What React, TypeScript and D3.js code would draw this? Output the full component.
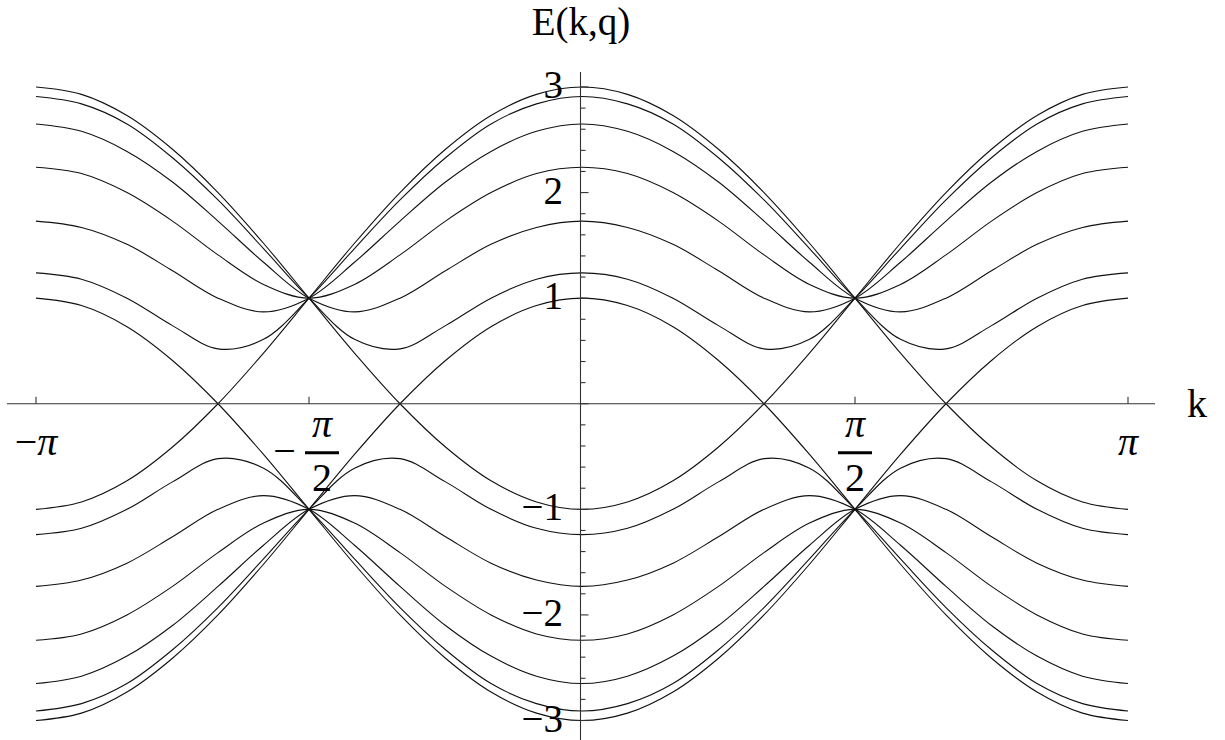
import React, { useEffect, useRef } from "react";
import * as d3 from "d3";

// k sample points, -pi .. pi in steps of pi/12
const kGrid = [
  -3.1416, -2.8798, -2.618, -2.3562, -2.0944, -1.8326, -1.5708, -1.309, -1.0472, -0.7854, -0.5236, -0.2618,
  0, 0.2618, 0.5236, 0.7854, 1.0472, 1.309, 1.5708, 1.8326, 2.0944, 2.3562, 2.618, 2.8798, 3.1416,
];

// bands (upper and lower branches)
const bandA = [-1, -0.93, -0.73, -0.41, 0, 0.48, 1, 1.52, 2, 2.41, 2.73, 2.93, 3, 2.93, 2.73, 2.41, 2, 1.52, 1, 0.48, 0, -0.41, -0.73, -0.93, -1];
const bandANeg = [1, 0.93, 0.73, 0.41, 0, -0.48, -1, -1.52, -2, -2.41, -2.73, -2.93, -3, -2.93, -2.73, -2.41, -2, -1.52, -1, -0.48, 0, 0.41, 0.73, 0.93, 1];
const bandB = [3, 2.93, 2.73, 2.41, 2, 1.52, 1, 0.48, 0, -0.41, -0.73, -0.93, -1, -0.93, -0.73, -0.41, 0, 0.48, 1, 1.52, 2, 2.41, 2.73, 2.93, 3];
const bandBNeg = [-3, -2.93, -2.73, -2.41, -2, -1.52, -1, -0.48, 0, 0.41, 0.73, 0.93, 1, 0.93, 0.73, 0.41, 0, -0.48, -1, -1.52, -2, -2.41, -2.73, -2.93, -3];
const bandC = [1.24, 1.18, 1, 0.74, 0.52, 0.61, 1, 1.47, 1.93, 2.33, 2.65, 2.84, 2.91, 2.84, 2.65, 2.33, 1.93, 1.47, 1, 0.61, 0.52, 0.74, 1, 1.18, 1.24];
const bandCNeg = [-1.24, -1.18, -1, -0.74, -0.52, -0.61, -1, -1.47, -1.93, -2.33, -2.65, -2.84, -2.91, -2.84, -2.65, -2.33, -1.93, -1.47, -1, -0.61, -0.52, -0.74, -1, -1.18, -1.24];
const bandD = [2.91, 2.84, 2.65, 2.33, 1.93, 1.47, 1, 0.61, 0.52, 0.74, 1, 1.18, 1.24, 1.18, 1, 0.74, 0.52, 0.61, 1, 1.47, 1.93, 2.33, 2.65, 2.84, 2.91];
const bandDNeg = [-2.91, -2.84, -2.65, -2.33, -1.93, -1.47, -1, -0.61, -0.52, -0.74, -1, -1.18, -1.24, -1.18, -1, -0.74, -0.52, -0.61, -1, -1.47, -1.93, -2.33, -2.65, -2.84, -2.91];
const bandE = [1.73, 1.67, 1.51, 1.26, 1, 0.87, 1, 1.34, 1.73, 2.1, 2.39, 2.58, 2.65, 2.58, 2.39, 2.1, 1.73, 1.34, 1, 0.87, 1, 1.26, 1.51, 1.67, 1.73];
const bandENeg = [-1.73, -1.67, -1.51, -1.26, -1, -0.87, -1, -1.34, -1.73, -2.1, -2.39, -2.58, -2.65, -2.58, -2.39, -2.1, -1.73, -1.34, -1, -0.87, -1, -1.26, -1.51, -1.67, -1.73];
const bandF = [2.65, 2.58, 2.39, 2.1, 1.73, 1.34, 1, 0.87, 1, 1.26, 1.51, 1.67, 1.73, 1.67, 1.51, 1.26, 1, 0.87, 1, 1.34, 1.73, 2.1, 2.39, 2.58, 2.65];
const bandFNeg = [-2.65, -2.58, -2.39, -2.1, -1.73, -1.34, -1, -0.87, -1, -1.26, -1.51, -1.67, -1.73, -1.67, -1.51, -1.26, -1, -0.87, -1, -1.34, -1.73, -2.1, -2.39, -2.58, -2.65];
const bandG = [2.24, 2.18, 2, 1.73, 1.41, 1.13, 1, 1.13, 1.41, 1.73, 2, 2.18, 2.24, 2.18, 2, 1.73, 1.41, 1.13, 1, 1.13, 1.41, 1.73, 2, 2.18, 2.24];
const bandGNeg = [-2.24, -2.18, -2, -1.73, -1.41, -1.13, -1, -1.13, -1.41, -1.73, -2, -2.18, -2.24, -2.18, -2, -1.73, -1.41, -1.13, -1, -1.13, -1.41, -1.73, -2, -2.18, -2.24];

const bands = [bandA, bandANeg, bandB, bandBNeg, bandC, bandCNeg, bandD, bandDNeg, bandE, bandENeg, bandF, bandFNeg, bandG, bandGNeg];

const kTickValues = [-Math.PI, -Math.PI / 2, Math.PI / 2, Math.PI];
const kTickLabels = ["−π", "−π/2", "π/2", "π"];
const eTickValues = [-3, -2, -1, 1, 2, 3];
const eTickLabels = ["−3", "−2", "−1", "1", "2", "3"];

const FONT = "'Liberation Serif', 'Times New Roman', serif";

// writes a string, with any π set in italic
const piText = (sel, s: string) => {
  s.split(/(π)/).filter((p) => p).forEach((p) => {
    const t = sel.append("tspan").text(p);
    if (p === "π") t.attr("font-style", "italic");
  });
  return sel;
};

const App = () => {
  const ref = useRef<SVGSVGElement>(null);

  useEffect(() => {
    const svg = d3.select(ref.current);
    svg.selectAll("*").remove();

    const x = d3.scaleLinear().domain([-Math.PI, Math.PI]).range([36, 1128]);
    const y = d3.scaleLinear().domain([-3, 3]).range([720.5, 87]);
    const x0 = x(0);
    const y0 = y(0);
    const ax = x0 - 1.5;

    // curves
    const line = d3
      .line<number>()
      .x((_, i) => x(kGrid[i]))
      .y((d) => y(d))
      .curve(d3.curveCatmullRom);

    svg
      .append("g")
      .selectAll("path")
      .data(bands)
      .join("path")
      .attr("d", (d) => line(d))
      .attr("fill", "none")
      .attr("stroke", "#111")
      .attr("stroke-width", 1.1);

    // axes
    const axes = svg.append("g").attr("stroke", "#333").attr("stroke-width", 1.1);
    axes.append("line").attr("x1", 7).attr("x2", 1155).attr("y1", y0).attr("y2", y0);
    axes.append("line").attr("x1", ax).attr("x2", ax).attr("y1", 72).attr("y2", 740);

    // k ticks
    axes
      .selectAll("line.kt")
      .data(kTickValues)
      .join("line")
      .attr("class", "kt")
      .attr("x1", (d) => x(d))
      .attr("x2", (d) => x(d))
      .attr("y1", y0)
      .attr("y2", y0 - 7);

    // E ticks, minor every 0.2
    const minor = d3.range(-15, 16).map((i) => i / 5);
    axes
      .selectAll("line.et")
      .data(minor)
      .join("line")
      .attr("class", "et")
      .attr("x1", ax)
      .attr("x2", (d) => (Math.abs(d - Math.round(d)) < 1e-6 ? ax + 8 : ax + 5))
      .attr("y1", (d) => y(d))
      .attr("y2", (d) => y(d));

    const text = svg.append("g").attr("font-family", FONT).attr("font-size", 40).attr("fill", "#000");

    // E tick labels
    text
      .selectAll("text.el")
      .data(eTickValues)
      .join("text")
      .attr("class", "el")
      .attr("x", x0 - 19)
      .attr("y", (d) => y(d) + 11)
      .attr("font-size", 39)
      .attr("text-anchor", "end")
      .text((_, i) => eTickLabels[i]);

    // k tick labels
    kTickValues.forEach((v, i) => {
      const label = kTickLabels[i];
      const cx = x(v);
      if (label.includes("/")) {
        const [num, den] = label.split("/");
        const neg = num.startsWith("−");
        const fx = neg ? cx + 13 : cx;
        if (neg) {
          text.append("text").attr("x", cx - 24.5).attr("y", y0 + 60).attr("text-anchor", "middle").text("−");
        }
        piText(text.append("text").attr("x", fx).attr("y", y0 + 33).attr("text-anchor", "middle"), neg ? num.slice(1) : num);
        svg
          .append("line")
          .attr("x1", fx - 17)
          .attr("x2", fx + 17)
          .attr("y1", y0 + 49)
          .attr("y2", y0 + 49)
          .attr("stroke", "#000")
          .attr("stroke-width", 2.8);
        text.append("text").attr("x", fx).attr("y", y0 + 87).attr("text-anchor", "middle").text(den);
      } else {
        piText(text.append("text").attr("x", cx).attr("y", y0 + 51).attr("text-anchor", "middle"), label);
      }
    });

    // axis labels
    text.append("text").attr("x", 1187).attr("y", y0 + 13).text("k");
    text.append("text").attr("x", x0 - 1).attr("y", 35).attr("font-size", 39).attr("text-anchor", "middle").text("E(k,q)");
  }, []);

  return (
    <svg
      ref={ref}
      width={1225}
      height={740}
      style={{ position: "absolute", left: 0, top: 0, background: "#fff" }}
    />
  );
};

export default App;
